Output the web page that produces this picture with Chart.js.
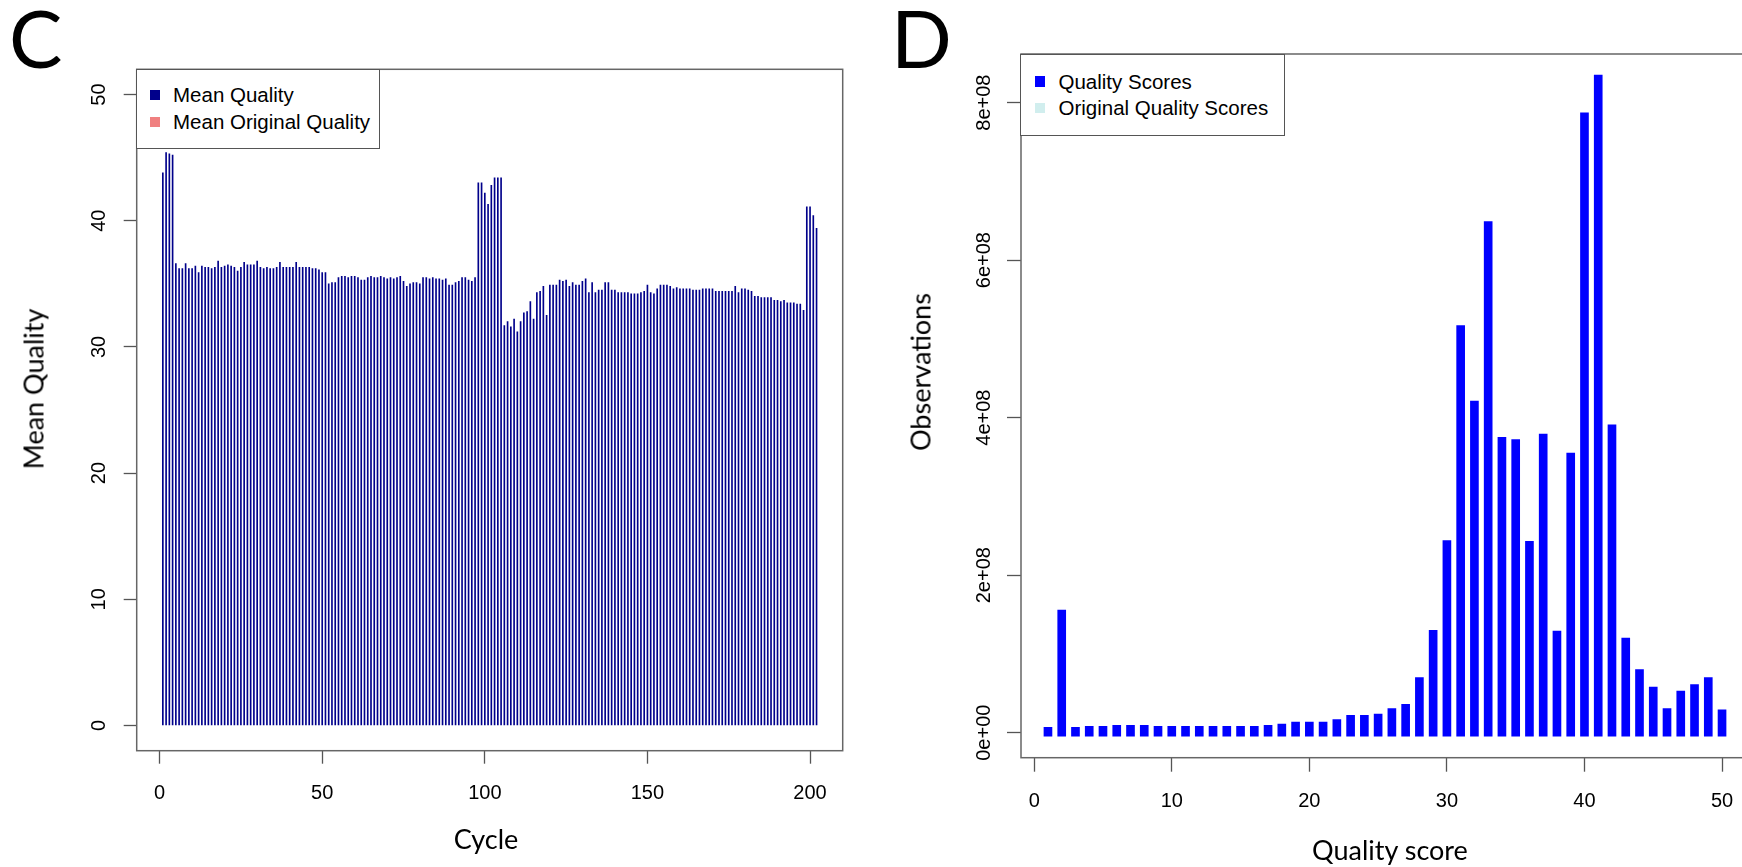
<!DOCTYPE html>
<html>
<head>
<meta charset="utf-8">
<script src="https://cdn.jsdelivr.net/npm/chart.js@4.4.1/dist/chart.umd.min.js"></script>
<style>
html,body{margin:0;padding:0;background:#fff;}
body{width:1742px;height:867px;overflow:hidden;position:relative;}
canvas{position:absolute;top:0;}
.t{position:absolute;white-space:nowrap;font-family:Lato,"Open Sans",sans-serif;color:#000;line-height:1;}
.rot{transform:translate(-50%,-50%) rotate(-90deg);}
.ctr{transform:translate(-50%,-50%);}
.lgbox{position:absolute;border:1.5px solid #555;background:#fff;box-sizing:border-box;}
.lgtext{position:absolute;white-space:nowrap;font-family:"Liberation Sans",Arial,sans-serif;font-size:20.5px;line-height:1;color:#000;}
.sw{position:absolute;}
</style>
</head>
<body>
<canvas id="chartC" width="870" height="867" style="left:0px"></canvas>
<canvas id="chartD" width="900" height="867" style="left:870px"></canvas>

<div class="t" style="left:9px;top:-3px;font-size:80px;">C</div>
<div class="t" style="left:891px;top:-3px;font-size:80px;">D</div>
<div class="t rot" style="left:33px;top:389px;font-size:27px;">Mean Quality</div>
<div class="t ctr" style="left:486px;top:838px;font-size:27px;">Cycle</div>
<div class="t rot" style="left:920px;top:372px;font-size:27px;">Observations</div>
<div class="t ctr" style="left:1390px;top:849px;font-size:27px;">Quality score</div>

<div id="legC" class="lgbox" style="left:136px;top:69px;width:244px;height:80px;"></div>
<div id="legD" class="lgbox" style="left:1020px;top:54px;width:265px;height:82px;"></div>

<script>
// ---------- Panel C data ----------
const cycles = Array.from({length: 202}, (_, i) => i + 1);
const meanQuality = [
  43.8, 45.4, 45.3, 45.2, 36.6, 36.2, 36.2, 36.6, 36.2, 36.2,
  36.4, 35.9, 36.4, 36.3, 36.3, 36.2, 36.3, 36.8, 36.3, 36.4,
  36.5, 36.4, 36.3, 36.0, 36.3, 36.7, 36.5, 36.5, 36.5, 36.8,
  36.3, 36.2, 36.3, 36.2, 36.2, 36.3, 36.7, 36.3, 36.3, 36.3,
  36.3, 36.7, 36.3, 36.3, 36.3, 36.3, 36.2, 36.2, 36.1, 35.9,
  35.9, 35.0, 35.1, 35.1, 35.5, 35.6, 35.6, 35.5, 35.6, 35.6,
  35.5, 35.3, 35.3, 35.5, 35.6, 35.5, 35.5, 35.6, 35.5, 35.4,
  35.5, 35.4, 35.5, 35.6, 35.2, 34.8, 35.0, 35.1, 35.1, 35.0,
  35.5, 35.5, 35.4, 35.5, 35.4, 35.4, 35.3, 35.4, 34.9, 34.9,
  35.1, 35.2, 35.5, 35.5, 35.3, 35.2, 35.5, 43.0, 43.0, 42.2,
  41.3, 42.8, 43.4, 43.4, 43.4, 31.7, 32.0, 31.6, 32.2, 31.2,
  32.0, 32.7, 32.8, 33.6, 32.2, 34.3, 34.4, 34.8, 32.5, 34.9,
  34.9, 34.9, 35.3, 35.2, 35.3, 34.8, 35.1, 34.9, 34.9, 35.2,
  35.4, 34.3, 35.1, 34.3, 34.5, 34.5, 35.1, 35.1, 34.5, 34.5,
  34.3, 34.3, 34.3, 34.3, 34.2, 34.2, 34.2, 34.3, 34.4, 34.9,
  34.3, 34.2, 34.6, 34.9, 34.9, 34.9, 34.8, 34.6, 34.7, 34.6,
  34.6, 34.6, 34.6, 34.5, 34.5, 34.5, 34.6, 34.6, 34.6, 34.6,
  34.4, 34.4, 34.4, 34.4, 34.4, 34.4, 34.8, 34.3, 34.6, 34.6,
  34.5, 34.4, 34.0, 34.0, 33.9, 33.9, 33.9, 33.9, 33.7, 33.7,
  33.6, 33.7, 33.5, 33.5, 33.5, 33.4, 33.4, 32.9, 41.1, 41.1,
  40.4, 39.4
];
const meanOriginalQuality = [];   // covered / not visible in the figure
const cycleTicks = [0, 50, 100, 150, 200];
const meanQualityTicks = [0, 10, 20, 30, 40, 50];

// ---------- Panel D data ----------
const qualityScore = Array.from({length: 50}, (_, i) => i + 1);
const observations = [
  6.9e6, 155.8e6, 6.9e6, 8.1e6, 8.1e6, 9.4e6, 9.4e6, 9.4e6, 8.1e6, 8.1e6,
  8.1e6, 8.1e6, 8.1e6, 8.1e6, 8.1e6, 8.1e6, 9.4e6, 11.0e6, 13.6e6, 13.6e6,
  13.6e6, 16.5e6, 22.1e6, 22.1e6, 23.7e6, 30.5e6, 36.0e6, 70.0e6, 130.0e6, 244.0e6,
  517.0e6, 421.0e6, 649.0e6, 375.0e6, 372.0e6, 243.0e6, 379.0e6, 129.0e6, 355.0e6, 787.0e6,
  835.0e6, 391.0e6, 120.0e6, 80.0e6, 58.0e6, 30.5e6, 53.0e6, 61.0e6, 70.0e6, 29.0e6
];
const originalObservations = [];   // not visible in the figure
const qualityTicks = [0, 10, 20, 30, 40, 50];
const observationTicks = [0, 2e8, 4e8, 6e8, 8e8];
const observationTickLabels = ['0e+00', '2e+08', '4e+08', '6e+08', '8e+08'];

// ---------- shared styling ----------
const AXIS_GRAY = '#555';
const TICK_FONT = {family: '"Liberation Sans", Arial, sans-serif', size: 20};

const boxPlugin = {
  id: 'rbox',
  afterDraw(chart) {
    const {ctx, chartArea: a} = chart;
    ctx.save();
    ctx.strokeStyle = '#666';
    ctx.lineWidth = 1.5;
    ctx.strokeRect(a.left, a.top, a.right - a.left, a.bottom - a.top);
    ctx.restore();
  }
};

function axisGrid(tl) {
  return {display: true, offset: false, drawOnChartArea: false, drawTicks: true, tickLength: tl,
          tickColor: AXIS_GRAY, tickWidth: 1.3, color: AXIS_GRAY};
}

// ---------- Chart C ----------
const chartC = new Chart(document.getElementById('chartC'), {
  type: 'bar',
  data: {
    datasets: [
      {label: 'Mean Quality', data: cycles.map((c, i) => ({x: c, y: meanQuality[i]})),
       backgroundColor: '#00008B', borderWidth: 0, barThickness: 1, grouped: false},
      {label: 'Mean Original Quality', data: meanOriginalQuality,
       backgroundColor: '#F08080', borderWidth: 0, barThickness: 1, grouped: false}
    ]
  },
  options: {
    responsive: false, animation: false, devicePixelRatio: 1,
    layout: {padding: {top: 69.3, right: 870 - 842.7, left: 0, bottom: 0}},
    plugins: {legend: {display: false}, tooltip: {enabled: false}},
    scales: {
      x: {type: 'linear', min: -7.04, max: 210.04, offset: false,
          afterBuildTicks: s => { s.ticks = cycleTicks.map(v => ({value: v})); },
          afterFit: s => { s.height = 867 - 750.7; },
          grid: axisGrid(13), border: {display: false},
          ticks: {font: TICK_FONT, color: '#000', padding: 18, minRotation: 0, maxRotation: 0, autoSkip: false}},
      y: {type: 'linear', min: -2, max: 52,
          afterBuildTicks: s => { s.ticks = meanQualityTicks.map(v => ({value: v})); },
          afterFit: s => { s.width = 136.7; },
          grid: axisGrid(13), border: {display: false},
          ticks: {font: TICK_FONT, color: '#000', padding: 12.6, minRotation: 90, maxRotation: 90,
                  crossAlign: 'center', autoSkip: false}}
    }
  },
  plugins: [boxPlugin]
});

// ---------- Chart D ----------
const CAP = 4.44e6; // square line-end of the thick R "h" lines below zero
const chartD = new Chart(document.getElementById('chartD'), {
  type: 'bar',
  data: {
    datasets: [
      {label: 'Quality Scores', data: qualityScore.map((q, i) => ({x: q, y: observations[i]})),
       backgroundColor: '#0000FF', borderWidth: 0, barThickness: 8, grouped: false, base: -CAP},
      {label: 'Original Quality Scores', data: originalObservations,
       backgroundColor: '#D1EEEE', borderWidth: 0, barThickness: 8, grouped: false}
    ]
  },
  options: {
    responsive: false, animation: false, devicePixelRatio: 1,
    layout: {padding: {top: 54, right: 900 - (1749 - 870), left: 0, bottom: 0}},
    plugins: {legend: {display: false}, tooltip: {enabled: false}},
    scales: {
      x: {type: 'linear', min: -0.96, max: 51.96, offset: false,
          afterBuildTicks: s => { s.ticks = qualityTicks.map(v => ({value: v})); },
          afterFit: s => { s.height = 867 - 757.7; },
          grid: axisGrid(14), border: {display: false},
          ticks: {font: TICK_FONT, color: '#000', padding: 18, minRotation: 0, maxRotation: 0, autoSkip: false}},
      y: {type: 'linear', min: -0.3174e8, max: 8.617e8,
          afterBuildTicks: s => { s.ticks = observationTicks.map(v => ({value: v})); },
          afterFit: s => { s.width = 1021 - 870; },
          grid: axisGrid(14), border: {display: false},
          ticks: {font: TICK_FONT, color: '#000', padding: -5.6, minRotation: 90, maxRotation: 90,
                  crossAlign: 'center', autoSkip: false,
                  callback: (v) => observationTickLabels[observationTicks.indexOf(v)]}}
    }
  },
  plugins: [boxPlugin]
});

// ---------- R-style legends built from the datasets ----------
function buildLegend(chart, boxEl, swatchDx, swatchSize, textDx, firstRowDy, rowStep) {
  chart.data.datasets.forEach((ds, i) => {
    const cy = firstRowDy + i * rowStep;
    const sw = document.createElement('div');
    sw.className = 'sw';
    sw.style.left = swatchDx + 'px';
    sw.style.top = (cy - swatchSize / 2) + 'px';
    sw.style.width = swatchSize + 'px';
    sw.style.height = swatchSize + 'px';
    sw.style.background = ds.backgroundColor;
    boxEl.appendChild(sw);
    const tx = document.createElement('div');
    tx.className = 'lgtext';
    tx.textContent = ds.label;
    tx.style.left = textDx + 'px';
    tx.style.top = (cy - 10) + 'px';
    boxEl.appendChild(tx);
  });
}
buildLegend(chartC, document.getElementById('legC'), 13, 10.3, 36, 25, 26.7);
buildLegend(chartD, document.getElementById('legD'), 13.5, 10.3, 37.5, 26.5, 26.6);
</script>
</body>
</html>
